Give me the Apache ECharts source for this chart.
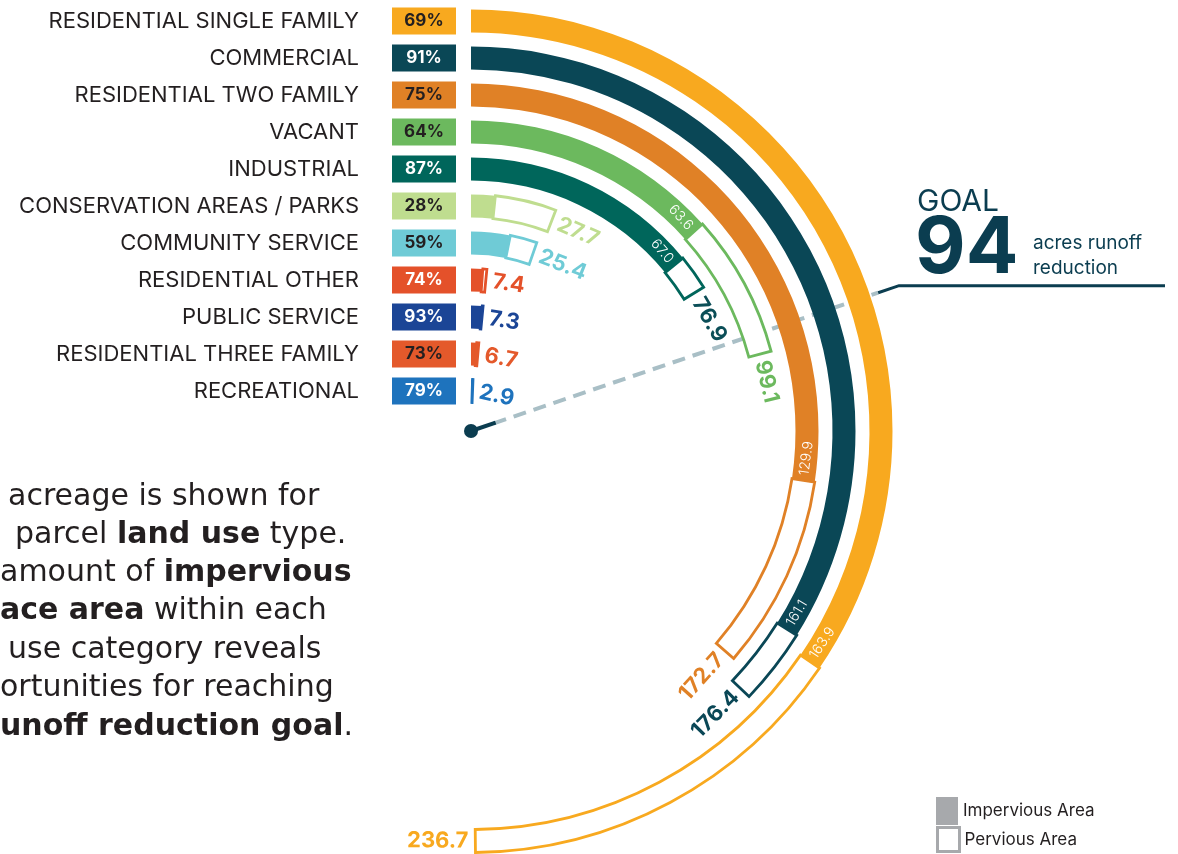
<!DOCTYPE html>
<html><head><meta charset="utf-8">
<script src="https://cdn.jsdelivr.net/npm/echarts@6/dist/echarts.min.js"></script>
<style>html,body{margin:0;padding:0;background:#fff}#c{width:1178px;height:854px}</style>
</head><body><div id="c"></div>
<script>
const categories = ['RESIDENTIAL SINGLE FAMILY','COMMERCIAL','RESIDENTIAL TWO FAMILY','VACANT','INDUSTRIAL','CONSERVATION AREAS / PARKS','COMMUNITY SERVICE','RESIDENTIAL OTHER','PUBLIC SERVICE','RESIDENTIAL THREE FAMILY','RECREATIONAL'];
const totalAcres = [236.7,176.4,172.7,99.1,76.9,27.7,25.4,7.4,7.3,6.7,2.9];
const imperviousAcres = [163.9,161.1,129.9,63.6,67.0,7.8,15.0,5.5,6.8,4.9,2.3];
const imperviousPct = [69,91,75,64,87,28,59,74,93,73,79];
const goalAcres = 94;
const angleMax = 475;

const colors = ['#F8A91F','#0A4756','#E08126','#6CB95E','#00665B','#BFDD8F','#6FCBD6','#E4512A','#1B4596','#E4592B','#1E73BD'];
const pctTextColors = ['#231F20','#fff','#231F20','#231F20','#fff','#231F20','#231F20','#fff','#fff','#231F20','#fff'];
const totalLabelColors = ['#F8A91F','#0A4756','#E08126','#6CB95E','#0B4E57','#BFDD8F','#6FCBD6','#E4512A','#1B4596','#E4592B','#1E73BD'];
const FONT = 'Inter, "Open Sans", sans-serif';
const PFONT = '"DejaVu Sans", "Open Sans", sans-serif';
const DARK = '#0B3D50';

const perviousAcres = totalAcres.map((t, i) => +(t - imperviousAcres[i]).toFixed(1));

const rich = { n: { fontSize: 22, color: '#231F20', fontFamily: FONT }, g: { width: 33 } };
colors.forEach((c, i) => {
  rich['p' + i] = { backgroundColor: c, color: pctTextColors[i], fontWeight: 'bold', fontSize: 17,
    fontFamily: FONT, width: 64, height: 27, lineHeight: 27, align: 'center' };
});

const chart = echarts.init(document.getElementById('c'), null, { renderer: 'canvas' });

function polarOf(p, cx, cy) {
  const dx = p[0] - cx, dy = p[1] - cy;
  let t = Math.atan2(dx, -dy);
  if (t < 0) t += Math.PI * 2;
  return { r: Math.hypot(dx, dy), t };
}

// paragraph (partly cut off at the left edge in the original)
const paraLines = [
  { x: 8,  y: 497, pre: 'Total', text: 'acreage is shown for' },
  { x: 15, y: 535, pre: 'each', text: 'parcel {b|land use} type.' },
  { x: 0,  y: 573, pre: 'The', text: 'amount of {b|impervious}' },
  { x: 0,  y: 611, pre: '{b|surf}', text: '{b|ace area} within each' },
  { x: 8,  y: 650, pre: 'land', text: 'use category reveals' },
  { x: 0,  y: 688, pre: 'opp', text: 'ortunities for reaching' },
  { x: 0,  y: 727, pre: 'the {b|r}', text: '{b|unoff reduction goal}.' }
];
const PF = '30px ' + PFONT;
function paraText(x, y, text, align) {
  return { type: 'text', x, y, style: { text, font: 'normal ' + PF, fill: '#231F20', align, verticalAlign: 'middle',
    rich: { b: { font: 'bold ' + PF, fill: '#231F20' } } } };
}

const option = {
  animation: false,
  textStyle: { fontFamily: FONT },
  polar: { center: [471, 431], radius: [21.5, 428.5] },
  angleAxis: { type: 'value', min: 0, max: angleMax, startAngle: 90, clockwise: true, show: false },
  radiusAxis: { type: 'category', data: categories, inverse: true, show: false },
  grid: { left: 456, top: 2.5, height: 407, width: 10, containLabel: false, outerBoundsMode: 'none' },
  xAxis: { type: 'value', show: false },
  yAxis: {
    type: 'category', inverse: true, data: categories,
    axisLine: { show: false }, axisTick: { show: false }, splitLine: { show: false },
    axisLabel: { margin: 0, formatter: (v, i) => '{n|' + v + '}{g|}{p' + i + '|' + imperviousPct[i] + '%}', rich }
  },
  legend: [
    { orient: 'vertical', left: 936, top: 797, padding: 0, itemWidth: 22, itemHeight: 28, icon: 'rect', selectedMode: false,
      textStyle: { fontSize: 17, color: '#231F20', fontFamily: FONT },
      data: [{ name: 'Impervious Area', itemStyle: { color: '#A7A9AC', borderWidth: 0 } }] },
    { orient: 'vertical', left: 936, top: 826, padding: 0, itemWidth: 22, itemHeight: 24, icon: 'rect', selectedMode: false,
      textStyle: { fontSize: 17, color: '#231F20', fontFamily: FONT },
      data: [{ name: 'Pervious Area', itemStyle: { color: '#fff', borderColor: '#A7A9AC', borderWidth: 3 } }] }
  ],
  graphic: [
    { type: 'text', x: 917, y: 202, style: { text: 'GOAL', font: 'normal 30px ' + FONT, fill: DARK, align: 'left', verticalAlign: 'middle' } },
    { type: 'text', x: 915, y: 250, style: { text: '94', font: 'bold 78px ' + FONT, fill: DARK, align: 'left', verticalAlign: 'middle' } },
    { type: 'text', x: 1033, y: 243, style: { text: 'acres runoff', font: 'normal 19px ' + FONT, fill: DARK, align: 'left', verticalAlign: 'middle' } },
    { type: 'text', x: 1033, y: 268, style: { text: 'reduction', font: 'normal 19px ' + FONT, fill: DARK, align: 'left', verticalAlign: 'middle' } }
  ].concat(
    paraLines.map(l => paraText(-6, l.y, l.pre, 'right')),
    paraLines.map(l => paraText(l.x, l.y, l.text, 'left'))
  ),
  series: [
    {
      type: 'custom', name: 'goal', coordinateSystem: 'polar', silent: true, z: 1,
      data: [[0, goalAcres]], encode: { radius: 0, angle: 1 },
      renderItem(params, api) {
        const cs = params.coordSys, cx = cs.cx, cy = cs.cy;
        const p = polarOf(api.coord([api.value(0), api.value(1)]), cx, cy);
        const at = r => [cx + r * Math.sin(p.t), cy - r * Math.cos(p.t)];
        const corner = at(452);
        return { type: 'group', children: [
          { type: 'line', shape: { x1: at(24)[0], y1: at(24)[1], x2: at(430)[0], y2: at(430)[1] },
            style: { stroke: '#A9BFC6', lineWidth: 4, lineDash: [13, 8] } },
          { type: 'line', shape: { x1: cx, y1: cy, x2: at(26)[0], y2: at(26)[1] }, style: { stroke: DARK, lineWidth: 4 } },
          { type: 'circle', shape: { cx, cy, r: 7 }, style: { fill: DARK } },
          { type: 'polyline', shape: { points: [at(430), corner, [1165, corner[1]]] }, style: { stroke: DARK, lineWidth: 3, fill: null } }
        ] };
      }
    },
    {
      type: 'bar', name: 'Impervious Area', coordinateSystem: 'polar', stack: 'acres', barWidth: 23, z: 2, silent: true,
      data: imperviousAcres.map((v, i) => ({ value: v, itemStyle: { color: colors[i] } }))
    },
    {
      type: 'bar', name: 'Pervious Area', coordinateSystem: 'polar', stack: 'acres', barWidth: 23, z: 2, silent: true,
      data: perviousAcres.map((v, i) => ({ value: v, itemStyle: { color: '#fff', borderColor: colors[i], borderWidth: 2.8 } }))
    },
    {
      type: 'custom', name: 'labels', coordinateSystem: 'polar', silent: true, z: 3,
      data: categories.map((c, i) => [i, totalAcres[i], imperviousAcres[i]]),
      encode: { radius: 0, angle: 1 },
      renderItem(params, api) {
        const cs = params.coordSys, cx = cs.cx, cy = cs.cy;
        const i = api.value(0);
        const tot = polarOf(api.coord([i, api.value(1)]), cx, cy);
        const imp = polarOf(api.coord([i, api.value(2)]), cx, cy);
        const r = tot.r;
        function txt(t, text, outside, font, fill) {
          const flip = t > Math.PI / 2 + 0.03;
          const x = cx + r * Math.sin(t), y = cy - r * Math.cos(t);
          const align = outside ? (flip ? 'right' : 'left') : (flip ? 'left' : 'right');
          return { type: 'text', x, y, rotation: flip ? Math.PI - t : -t,
            style: { text, font, fill, align, verticalAlign: 'middle', textAlign: align, textVerticalAlign: 'middle' } };
        }
        const children = [
          txt(tot.t + 7 / r, totalAcres[i].toFixed(1), true, 'bold 22px ' + FONT, totalLabelColors[i])
        ];
        if (imp.t * r > 80) {
          children.push(txt(imp.t - 5 / r, imperviousAcres[i].toFixed(1), false, '300 14px ' + FONT, '#fff'));
        }
        return { type: 'group', children };
      }
    }
  ]
};
chart.setOption(option);
</script></body></html>
